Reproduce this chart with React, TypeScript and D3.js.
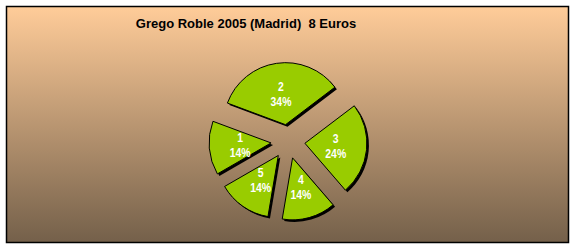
import React from 'react';
import * as d3 from 'd3';

// Slice labels and their shares (percent) in drawing order, clockwise
const categories = ['1', '2', '3', '4', '5'];
const shares = [14, 34, 24, 14, 14];
const firstSliceAngle = 240; // degrees, clockwise from 12 o'clock
const title = 'Grego Roble 2005 (Madrid)  8 Euros';

const W = 576;
const H = 248;

export default function App() {
  const cx = 288;
  const cy = 141.5;
  const radius = 62;
  const explode = 17;

  const start = (firstSliceAngle * Math.PI) / 180;
  const pie = d3
    .pie<number>()
    .sort(null)
    .value((d) => d)
    .startAngle(start)
    .endAngle(start + 2 * Math.PI);
  const slices = pie(shares);
  const arc = d3.arc<d3.PieArcDatum<number>>().innerRadius(0).outerRadius(radius);
  const total = d3.sum(shares);

  return (
    <svg
      width={W}
      height={H}
      style={{ position: 'absolute', left: 0, top: 0, background: '#fff' }}
      fontFamily="'Liberation Sans', Arial, sans-serif"
    >
      <defs>
        <linearGradient id="bg" x1="0" y1="0" x2="0" y2="1">
          <stop offset="0" stopColor="#FFCC99" />
          <stop offset="1" stopColor="#74604A" />
        </linearGradient>
      </defs>
      <rect x={6.5} y={6.5} width={562} height={236} fill="url(#bg)" stroke="#000" strokeWidth={1.5} />
      <text
        x={246}
        y={27.5}
        textAnchor="middle"
        fontSize={13}
        fontWeight="bold"
        fill="#000"
        style={{ whiteSpace: 'pre' }}
      >
        {title}
      </text>
      {slices.map((s, i) => {
        const mid = (s.startAngle + s.endAngle) / 2;
        const dx = Math.sin(mid);
        const dy = -Math.cos(mid);
        const ox = cx + dx * explode;
        const oy = cy + dy * explode;
        const lx = ox + dx * radius * 0.5;
        const ly = oy + dy * radius * 0.5;
        const pct = Math.round((s.value / total) * 100);
        const d = arc(s) || '';
        return (
          <g key={categories[i]}>
            <path d={d} transform={`translate(${ox + 2},${oy + 2})`} fill="#000" />
            <path d={d} transform={`translate(${ox},${oy})`} fill="#99CC00" stroke="#000" strokeWidth={1} />
            <g transform={`translate(${lx},${ly}) scale(0.87,1)`}>
              <text x={0} y={-3.5} textAnchor="middle" fontSize={12} fontWeight="bold" fill="#fff">
                {categories[i]}
              </text>
              <text x={0} y={11.5} textAnchor="middle" fontSize={12} fontWeight="bold" fill="#fff">
                {`${pct}%`}
              </text>
            </g>
          </g>
        );
      })}
    </svg>
  );
}
